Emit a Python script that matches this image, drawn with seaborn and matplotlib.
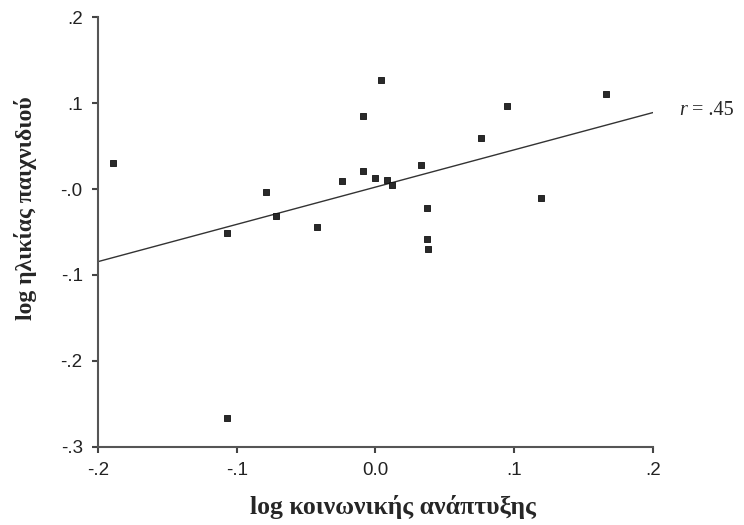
import numpy as np
import pandas as pd
import matplotlib
matplotlib.use("Agg")
import matplotlib.pyplot as plt
from matplotlib import font_manager
import seaborn as sns

# ==============================
# DATA
# ==============================
social_dev = [-0.189, -0.107, -0.107, -0.079, -0.072, -0.042, -0.024, -0.009, -0.009,
              0.000, 0.004, 0.008, 0.012, 0.033, 0.076, 0.095, 0.166, 0.119,
              0.037, 0.037, 0.038]
play_age = [0.030, -0.051, -0.266, -0.003, -0.031, -0.044, 0.009, 0.085, 0.021,
            0.013, 0.127, 0.011, 0.005, 0.028, 0.059, 0.097, 0.111, -0.010,
            -0.022, -0.058, -0.070]

x_ticks = [-0.2, -0.1, 0.0, 0.1, 0.2]
x_tick_labels = ["-.2", "-.1", "0.0", ".1", ".2"]
y_ticks = [0.2, 0.1, 0.0, -0.1, -0.2, -0.3]
y_tick_labels = [".2", ".1", "-.0", "-.1", "-.2", "-.3"]
r_label = "= .45"

df = pd.DataFrame({"x": social_dev, "y": play_age})

# ==============================
# PLOT
# ==============================
sns.set_style("ticks")
plt.rcParams["font.family"] = ["Liberation Sans", "DejaVu Sans"]

# make sure we get the regular-width Liberation Sans, not the Narrow cut
tick_font = font_manager.FontProperties(family="Liberation Sans", size=13.5)
for f in font_manager.fontManager.ttflist:
    if f.fname.endswith("LiberationSans-Regular.ttf"):
        tick_font = font_manager.FontProperties(fname=f.fname, size=13.5)
        break

fig = plt.figure(figsize=(7.44, 5.25), dpi=100)
ax = fig.add_axes([0.1317, 0.1486, 0.746, 0.819])
ax.set_xlim(-0.2, 0.2)
ax.set_ylim(-0.3, 0.2)

# least-squares line across the full x range
sns.regplot(data=df, x="x", y="y", ax=ax, ci=None, truncate=False,
            scatter=False, line_kws={"color": "#333333", "lw": 1.0})
sns.scatterplot(data=df, x="x", y="y", ax=ax, marker="s", s=25,
                color="#2a2a2a", edgecolor="#111111", linewidth=0.6, zorder=3)

ax.set_xlim(-0.2, 0.2)
ax.set_ylim(-0.3, 0.2)
ax.set_xticks(x_ticks)
ax.set_xticklabels(x_tick_labels, fontproperties=tick_font, color="#222222")
ax.set_yticks(y_ticks)
ax.set_yticklabels(y_tick_labels, fontproperties=tick_font, color="#222222")
ax.tick_params(axis="both", colors="#444444", labelcolor="#222222",
               length=4, width=1.5, direction="out", pad=7)
for side in ["left", "bottom"]:
    ax.spines[side].set_color("#555555")
    ax.spines[side].set_linewidth(1.5)
sns.despine(ax=ax)

ax.set_xlabel("log κοινωνικής ανάπτυξης", fontsize=18.5, fontweight="bold",
              family="Liberation Serif")
ax.set_ylabel("log ηλικίας παιχνιδιού", fontsize=17, fontweight="bold",
              family="Liberation Serif")
ax.xaxis.set_label_coords(0.532, -0.112)
ax.yaxis.set_label_coords(-0.11, 0.556)

ax.text(0.219, 0.091, "r", style="italic", fontsize=14.5, family="Liberation Serif",
        va="center", ha="left", clip_on=False)
ax.text(0.228, 0.091, r_label, fontsize=14.5, family="Liberation Serif",
        va="center", ha="left", clip_on=False)

plt.savefig("out.png", dpi=100)
